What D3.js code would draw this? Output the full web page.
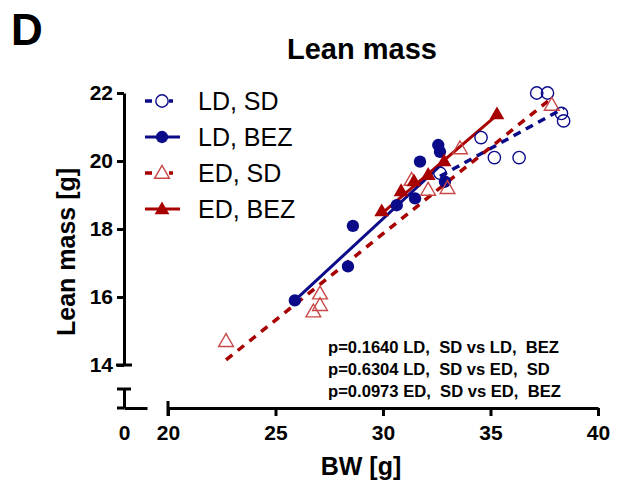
<!DOCTYPE html>
<html>
<head>
<meta charset="UTF-8">
<title>Lean mass</title>
<script src="https://d3js.org/d3.v7.min.js"></script>
<style>
  body { margin: 0; background: #fff; }
  svg { display: block; font-family: "Liberation Sans", Arial, sans-serif; }
  .tick text { font-weight: bold; font-size: 21px; fill: #000; }
  .ax path, .ax line { stroke: #000; stroke-width: 3; }
</style>
</head>
<body>
<svg width="625" height="486"></svg>
<script>
// LD, SD (open circles)
const ldSdBW = [37.15, 37.65, 38.3, 38.4, 34.56, 35.18, 36.33, 32.65];
const ldSdLM = [22.0, 22.0, 21.4, 21.18, 20.69, 20.1, 20.1, 19.64];
// LD, BEZ (filled circles)
const ldBezBW = [25.9, 28.37, 28.6, 30.64, 31.49, 31.72, 32.57, 32.65, 32.88];
const ldBezLM = [15.9, 16.9, 18.09, 18.7, 18.9, 19.98, 20.47, 20.27, 19.39];
// ED, SD (open triangles)
const edSdBW = [22.7, 26.76, 27.07, 27.07, 31.33, 32.1, 33.0, 33.58, 37.85];
const edSdLM = [14.7, 15.57, 15.76, 16.1, 19.44, 19.15, 19.2, 20.37, 21.65];
// ED, BEZ (filled triangles)
const edBezBW = [29.94, 30.84, 31.44, 32.1, 32.84, 35.3];
const edBezLM = [18.53, 19.12, 19.41, 19.6, 20.0, 21.38];

// regression line end points
const ldSdFit = [[32.65, 19.55], [38.4, 21.55]];
const ldBezFit = [[25.9, 15.9], [32.9, 20.0]];
const edSdFit = [[22.7, 14.15], [37.85, 21.85]];
const edBezFit = [[29.94, 18.45], [35.35, 21.38]];

const xTicks = [20, 25, 30, 35, 40];
const yTicks = [14, 16, 18, 20, 22];
const pTexts = [
  "p=0.1640 LD,  SD vs LD,  BEZ",
  "p=0.6304 LD,  SD vs ED,  SD",
  "p=0.0973 ED,  SD vs ED,  BEZ"
];

const blue = "#0b0b8a", red = "#a80000", lightRed = "#c84848";

const series = [
  {name: "LD, SD", bw: ldSdBW, lm: ldSdLM, fit: ldSdFit, color: blue, sym: "circle", filled: false, dash: "8,6", mcolor: blue},
  {name: "LD, BEZ", bw: ldBezBW, lm: ldBezLM, fit: ldBezFit, color: blue, sym: "circle", filled: true, dash: null, mcolor: blue},
  {name: "ED, SD", bw: edSdBW, lm: edSdLM, fit: edSdFit, color: red, sym: "triangle", filled: false, dash: "8,7", mcolor: lightRed},
  {name: "ED, BEZ", bw: edBezBW, lm: edBezLM, fit: edBezFit, color: red, sym: "triangle", filled: true, dash: null, mcolor: red}
];

const svg = d3.select("svg");

// broken axes: main segment plus a short segment at 0
const x = d3.scaleLinear().domain([20, 40]).range([168, 598]);
const y = d3.scaleLinear().domain([14, 22]).range([365, 93]);
const xLow = d3.scaleLinear().domain([0, 1]).range([124, 147]);
const yLow = d3.scaleLinear().domain([0, 1]).range([408, 389]);
const xAxisY = yLow(0), yAxisX = xLow(0);

const symGen = {
  circle: d3.symbol(d3.symbolCircle, 120),
  triangle: d3.symbol(d3.symbolTriangle, 95)
};

// y axis main
svg.append("g").attr("class", "ax")
  .attr("transform", `translate(${yAxisX},0)`)
  .call(d3.axisLeft(y).tickValues(yTicks).tickSize(7).tickSizeOuter(0).tickPadding(4));
// y axis low segment
svg.append("g").attr("class", "ax")
  .attr("transform", `translate(${yAxisX},0)`)
  .call(d3.axisLeft(yLow).tickValues([]).tickSize(7).tickSizeOuter(0));
// x axis main
svg.append("g").attr("class", "ax")
  .attr("transform", `translate(0,${xAxisY})`)
  .call(d3.axisBottom(x).tickValues(xTicks).tickSize(8).tickSizeOuter(0).tickPadding(9));
// x axis low segment
svg.append("g").attr("class", "ax")
  .attr("transform", `translate(0,${xAxisY})`)
  .call(d3.axisBottom(xLow).tickValues([0]).tickFormat(d3.format("d")).tickSize(0).tickSizeOuter(0).tickPadding(17));

// y tick at 0 and break caps
const caps = [
  [yAxisX - 7, xAxisY, yAxisX, xAxisY],
  [yAxisX - 7, yLow(1), yAxisX + 7, yLow(1)],
  [yAxisX - 8, y(14), yAxisX + 8, y(14)],
  [x(20), xAxisY - 7, x(20), xAxisY + 8]
];
svg.append("g").selectAll("line").data(caps).join("line")
  .attr("x1", d => d[0]).attr("y1", d => d[1])
  .attr("x2", d => d[2]).attr("y2", d => d[3])
  .attr("stroke", "#000").attr("stroke-width", 3);

// axis titles
svg.append("text").attr("x", 361).attr("y", 475)
  .attr("text-anchor", "middle").attr("font-weight", "bold").attr("font-size", 25)
  .text("BW [g]");
svg.append("text").attr("transform", "translate(75,252) rotate(-90)")
  .attr("text-anchor", "middle").attr("font-weight", "bold").attr("font-size", 25)
  .text("Lean mass [g]");

// titles
svg.append("text").attr("x", 362).attr("y", 59)
  .attr("text-anchor", "middle").attr("font-weight", "bold").attr("font-size", 29)
  .text("Lean mass");
svg.append("text").attr("x", 11).attr("y", 45)
  .attr("font-weight", "bold").attr("font-size", 44)
  .text("D");

// fit lines
const line = d3.line().x(d => x(d[0])).y(d => y(d[1]));
series.forEach(s => {
  svg.append("path").datum(s.fit)
    .attr("d", line)
    .attr("fill", "none")
    .attr("stroke", s.color)
    .attr("stroke-width", s.dash ? 3.5 : 3)
    .attr("stroke-dasharray", s.dash);
});

// points
series.forEach(s => {
  svg.append("g").selectAll("path")
    .data(s.bw.map((v, i) => [v, s.lm[i]]))
    .join("path")
    .attr("d", symGen[s.sym])
    .attr("transform", d => `translate(${x(d[0])},${y(d[1]) + (s.sym === "triangle" ? 1 : 0)})`)
    .attr("fill", s.filled ? s.mcolor : "none")
    .attr("stroke", s.mcolor)
    .attr("stroke-width", s.filled ? 0 : 1.4);
});

// legend
const legend = svg.append("g");
series.forEach((s, i) => {
  const cy = 101 + i * 36;
  legend.append("line")
    .attr("x1", 145).attr("x2", 180).attr("y1", cy).attr("y2", cy)
    .attr("stroke", s.color).attr("stroke-width", s.dash ? 3.5 : 3)
    .attr("stroke-dasharray", s.dash ? "7,8,0,9,4" : null);
  legend.append("path")
    .attr("d", symGen[s.sym])
    .attr("transform", `translate(162,${cy + (s.sym === "triangle" ? 1 : 0)})`)
    .attr("fill", s.filled ? s.mcolor : "#fff")
    .attr("stroke", s.mcolor)
    .attr("stroke-width", s.filled ? 0 : 1.4);
  legend.append("text")
    .attr("x", 198).attr("y", cy).attr("dy", "0.36em")
    .attr("font-size", 25)
    .text(s.name);
});

// p values
svg.append("g").selectAll("text").data(pTexts).join("text")
  .attr("x", 328).attr("y", (d, i) => 353 + i * 22)
  .attr("font-weight", "bold").attr("font-size", 16.6)
  .style("white-space", "pre")
  .text(d => d);
</script>
</body>
</html>
